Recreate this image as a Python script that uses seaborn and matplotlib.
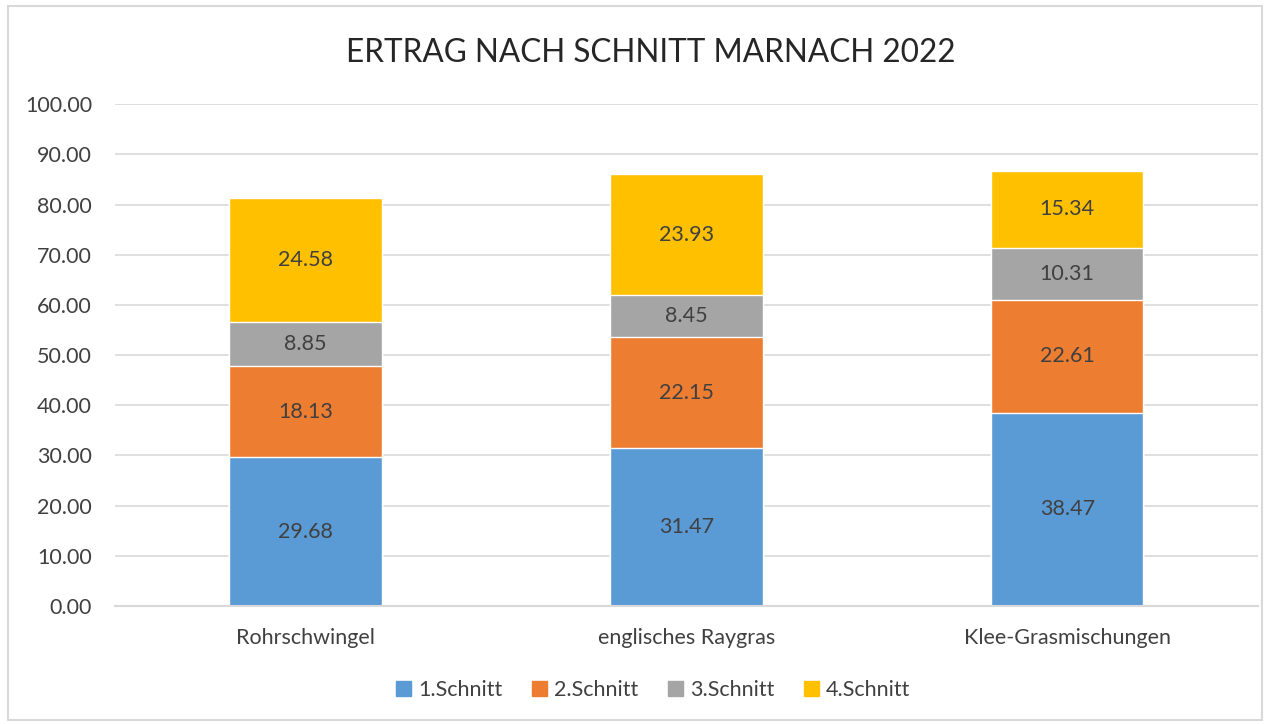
import numpy as np
import pandas as pd
import matplotlib
matplotlib.use("Agg")
import matplotlib.pyplot as plt
import matplotlib.patches as mpatches
import seaborn as sns

# data
categories = ["Rohrschwingel", "englisches Raygras", "Klee-Grasmischungen"]
series = ["1.Schnitt", "2.Schnitt", "3.Schnitt", "4.Schnitt"]
schnitt1 = [29.68, 31.47, 38.47]
schnitt2 = [18.13, 22.15, 22.61]
schnitt3 = [8.85, 8.45, 10.31]
schnitt4 = [24.58, 23.93, 15.34]
colors = ["#5b9bd5", "#ed7d31", "#a5a5a5", "#ffc000"]

sns.set_theme(style="white")
plt.rcParams["font.family"] = ["Lato", "DejaVu Sans"]

values = np.array([schnitt1, schnitt2, schnitt3, schnitt4])
cum = values.cumsum(axis=0)

fig = plt.figure(figsize=(12.71, 7.24), dpi=100)
ax = fig.add_axes([0.0905, 0.163, 0.899, 0.693])

# stacked bars: draw cumulative totals from top down
for i in reversed(range(len(series))):
    df = pd.DataFrame({"Kategorie": categories, "Wert": cum[i]})
    sns.barplot(data=df, x="Kategorie", y="Wert", color=colors[i],
                width=0.4, saturation=1, ax=ax, zorder=2)

# value labels in the middle of each segment
for i in range(len(series)):
    for j in range(len(categories)):
        mid = cum[i][j] - values[i][j] / 2
        ax.text(j, mid, f"{values[i][j]:.2f}", ha="center", va="center",
                fontsize=15.5, color="#404040", zorder=3)

ax.set_xlim(-0.5, 2.5)
ax.set_ylim(0, 100)
ax.set_yticks(np.arange(0, 101, 10))
ax.set_yticklabels([f"{v:.2f}" for v in np.arange(0, 101, 10)])
ax.yaxis.grid(True, color="#d9d9d9", linewidth=1.2, zorder=0)
ax.set_axisbelow(True)
for s in ["top", "right", "left"]:
    ax.spines[s].set_visible(False)
ax.spines["bottom"].set_color("#d9d9d9")
ax.spines["bottom"].set_linewidth(1.5)
ax.tick_params(axis="y", length=0, pad=16.5, labelsize=15.5, labelcolor="#404040")
ax.tick_params(axis="x", length=0, pad=16, labelsize=15.5, labelcolor="#404040")
ax.set_xlabel("")
ax.set_ylabel("")

fig.suptitle("ERTRAG NACH SCHNITT MARNACH 2022", x=0.512, y=0.947, fontsize=22.7,
             color="#262626")

handles = [mpatches.Patch(color=c, label=s) for c, s in zip(colors, series)]
fig.legend(handles=handles, loc="center", bbox_to_anchor=(0.514, 0.047), ncol=4,
           frameon=False, fontsize=15.5, handlelength=0.7, handleheight=0.7,
           handletextpad=0.3, columnspacing=1.4, labelcolor="#404040")

# light frame around the chart area
fig.patches.append(mpatches.Rectangle((8 / 1271, 4 / 724), 1254 / 1271, 714 / 724,
                                      transform=fig.transFigure, fill=False,
                                      edgecolor="#d9d9d9", linewidth=1.5))

fig.savefig("out.png", dpi=100)
